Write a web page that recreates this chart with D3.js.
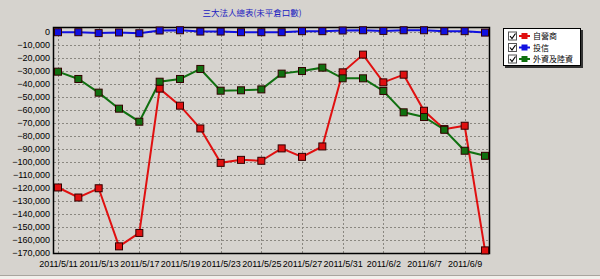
<!DOCTYPE html>
<html>
<head>
<meta charset="utf-8">
<script src="https://cdn.jsdelivr.net/npm/d3@7"></script>
<style>
  body { margin: 0; background: #d6d3ce; }
  svg { display: block; }
</style>
</head>
<body>
<div id="chart"></div>
<script>
// trading days
var dates = ['2011/5/11', '2011/5/12', '2011/5/13', '2011/5/16', '2011/5/17', '2011/5/18',
	'2011/5/19', '2011/5/20', '2011/5/23', '2011/5/24', '2011/5/25', '2011/5/26',
	'2011/5/27', '2011/5/30', '2011/5/31', '2011/6/1', '2011/6/2', '2011/6/3',
	'2011/6/7', '2011/6/8', '2011/6/9', '2011/6/10'];

// 自營商
var dealer = [-119700, -127400, -120300, -164900, -154600, -43800, -56900, -74400,
	-100800, -98500, -99200, -89700, -96200, -88200, -31300, -17700, -39000, -33100,
	-60800, -74900, -72300, -168000];
// 投信
var trust = [-500, -500, -1200, -700, -1300, 800, 1000, 0, 0, -500, -500, -500,
	300, 300, 800, 1000, 500, 1000, 1000, 300, 300, -800];
// 外資及陸資
var foreign = [-30800, -36400, -46900, -59200, -69200, -38500, -36400, -28700,
	-45400, -45100, -44400, -32300, -30300, -27700, -35900, -35900, -45600, -62000,
	-65600, -75400, -91500, -95400];

var yTicks = d3.range(-170000, 1, 10000);
var xTickIdx = d3.range(0, 22, 2);

var seriesNames = ['自營商', '投信', '外資及陸資'];
var seriesColors = ['#e01010', '#1010e0', '#107010'];
var seriesData = [dealer, trust, foreign];

var W = 600, H = 279;
var margin = { left: 54, right: 111, top: 27, bottom: 26 };
var width = W - margin.left - margin.right,
	height = H - margin.top - margin.bottom;
var tickFont = '"Liberation Sans Narrow", "Arial Narrow", Arial, sans-serif';
var cjkFont = '"Noto Sans CJK TC", sans-serif';

var svg = d3.select('#chart').append('svg')
	.attr('width', W)
	.attr('height', H);

// outer frame bottom edge
svg.append('line').attr('x1', 0).attr('x2', W).attr('y1', 275.5).attr('y2', 275.5)
	.attr('stroke', '#a8a59f');
svg.append('rect').attr('x', 0).attr('y', 276).attr('width', W).attr('height', 3)
	.attr('fill', '#f2f0ec');

var chart = svg.append('g')
	.attr('transform', 'translate(' + margin.left + ',' + margin.top + ')');

var xScale = d3.scaleLinear()
	.domain([0, dates.length - 1])
	.range([4, width - 4]);

var yScale = d3.scaleLinear()
	.domain([-170000, 3500])
	.range([height, 0]);

// title
svg.append('text')
	.attr('x', 252)
	.attr('y', 16)
	.attr('text-anchor', 'middle')
	.attr('fill', '#2020c0')
	.style('font-size', '8.5px')
	.style('font-family', cjkFont)
	.text('三大法人總表(未平倉口數)');

// grid
chart.append('g')
	.selectAll('line')
	.data(yTicks.filter(function (d) { return d > -170000; }))
	.enter().append('line')
	.attr('x1', 0).attr('x2', width)
	.attr('y1', function (d) { return Math.round(yScale(d)) + 0.5; })
	.attr('y2', function (d) { return Math.round(yScale(d)) + 0.5; })
	.attr('stroke', '#8a8780')
	.attr('stroke-dasharray', '2,2');

chart.append('g')
	.selectAll('line')
	.data(xTickIdx)
	.enter().append('line')
	.attr('x1', function (d) { return Math.round(xScale(d)) + 0.5; })
	.attr('x2', function (d) { return Math.round(xScale(d)) + 0.5; })
	.attr('y1', 0).attr('y2', height)
	.attr('stroke', '#8a8780')
	.attr('stroke-dasharray', '2,2');

// y axis
var yAxis = d3.axisLeft(yScale)
	.tickValues(yTicks)
	.tickSize(0)
	.tickPadding(4)
	.tickFormat(d3.format(','));
var gy = chart.append('g').call(yAxis);
gy.select('.domain').remove();
gy.selectAll('text').style('font-size', '9px').style('font-family', tickFont).attr('fill', '#000');

// x axis
var xAxis = d3.axisBottom(xScale)
	.tickValues(xTickIdx)
	.tickSize(0)
	.tickPadding(8)
	.tickFormat(function (i) { return dates[i]; });
var gx = chart.append('g')
	.attr('transform', 'translate(0,' + height + ')')
	.call(xAxis);
gx.select('.domain').remove();
gx.selectAll('text').style('font-size', '9px').style('font-family', tickFont).attr('fill', '#000');

// plot frame
chart.append('rect')
	.attr('x', -0.5).attr('y', 0.5)
	.attr('width', width + 1).attr('height', height)
	.attr('fill', 'none')
	.attr('stroke', '#000')
	.attr('stroke-width', 1.5);

// series
var line = d3.line()
	.x(function (d, i) { return xScale(i); })
	.y(function (d) { return yScale(d); });

seriesData.forEach(function (vals, s) {
	chart.append('path')
		.datum(vals)
		.attr('d', line)
		.attr('fill', 'none')
		.attr('stroke', seriesColors[s])
		.attr('stroke-width', 2);
});
seriesData.forEach(function (vals, s) {
	chart.append('g')
		.selectAll('rect')
		.data(vals)
		.enter().append('rect')
		.attr('x', function (d, i) { return xScale(i) - 3.5; })
		.attr('y', function (d) { return yScale(d) - 3.5; })
		.attr('width', 7).attr('height', 7)
		.attr('fill', seriesColors[s])
		.attr('stroke', '#300')
		.attr('stroke-width', 1);
});

// legend
var lg = svg.append('g').attr('transform', 'translate(503,28)');
lg.append('rect').attr('x', 2).attr('y', 2).attr('width', 78).attr('height', 38)
	.attr('fill', '#333');
lg.append('rect').attr('x', 0.5).attr('y', 0.5).attr('width', 77).attr('height', 37)
	.attr('fill', '#ffffff').attr('stroke', '#000');

seriesNames.forEach(function (name, s) {
	var y = 7.5 + s * 11.5;
	var row = lg.append('g').attr('transform', 'translate(0,' + y + ')');
	row.append('rect').attr('x', 5.5).attr('y', -3.5).attr('width', 8).attr('height', 8)
		.attr('fill', '#fff').attr('stroke', '#555');
	row.append('path').attr('d', 'M7,0.5 L9,3 L12.5,-2')
		.attr('fill', 'none').attr('stroke', '#000').attr('stroke-width', 1.2);
	row.append('line').attr('x1', 16).attr('x2', 27).attr('y1', 0.5).attr('y2', 0.5)
		.attr('stroke', seriesColors[s]).attr('stroke-width', 2);
	row.append('rect').attr('x', 18.5).attr('y', -2.5).attr('width', 6).attr('height', 6)
		.attr('fill', seriesColors[s]);
	row.append('text').attr('x', 30).attr('y', 3.5)
		.style('font-size', '8px')
		.style('font-family', cjkFont)
		.attr('fill', '#000')
		.text(name);
});
</script>
</body>
</html>
